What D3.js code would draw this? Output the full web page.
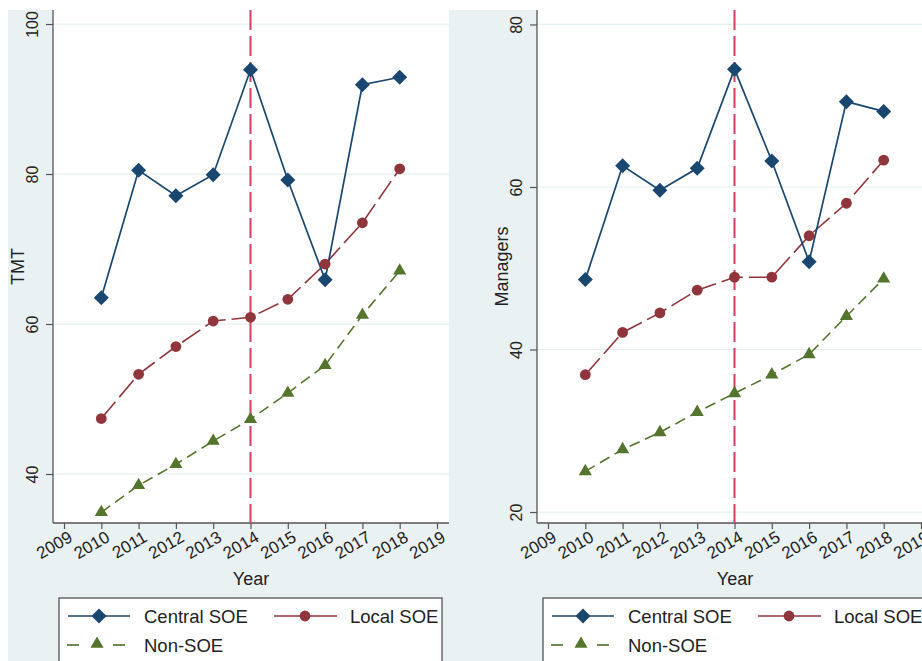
<!DOCTYPE html>
<html>
<head>
<meta charset="utf-8">
<script src="https://cdn.jsdelivr.net/npm/d3@7"></script>
<style>
	body { margin: 0; background: #fff; }
	svg { display: block; font-family: "Liberation Sans", Arial, sans-serif; }
</style>
</head>
<body>
<div id="chart"></div>
<script>
var years = [2010, 2011, 2012, 2013, 2014, 2015, 2016, 2017, 2018];
var xTicks = [2009, 2010, 2011, 2012, 2013, 2014, 2015, 2016, 2017, 2018, 2019];
var policyYear = 2014;

// TMT panel
var tmtCentral = [63.5, 80.5, 77.1, 79.9, 93.9, 79.2, 65.9, 91.9, 92.9];
var tmtLocal   = [47.4, 53.3, 57.0, 60.4, 60.9, 63.3, 68.0, 73.5, 80.7];
var tmtNon     = [34.9, 38.5, 41.3, 44.4, 47.3, 50.8, 54.5, 61.2, 67.1];
var tmtTicks   = [40, 60, 80, 100];

// Managers panel
var mgrCentral = [48.6, 62.6, 59.6, 62.3, 74.5, 63.2, 50.8, 70.5, 69.3];
var mgrLocal   = [36.9, 42.1, 44.5, 47.3, 48.9, 48.9, 54.0, 58.0, 63.3];
var mgrNon     = [25.0, 27.7, 29.8, 32.3, 34.6, 36.9, 39.4, 44.1, 48.7];
var mgrTicks   = [20, 40, 60, 80];

var seriesNames = ["Central SOE", "Local SOE", "Non-SOE"];

var W = 922, H = 661;
var navy = "#1a476f", maroon = "#90353b", green = "#55752f", crimson = "#d53e5c";
var bg = "#eaf1f3", txt = "#222";

var svg = d3.select("#chart").append("svg")
	.attr("width", W)
	.attr("height", H);

svg.append("rect")
	.attr("x", 8).attr("y", 10)
	.attr("width", W).attr("height", H)
	.attr("fill", bg);

function panel(dx, title, central, local, non, yTicks, yDomain) {
	var left = 53 + dx, right = 449 + dx, top = 10, bottom = 523;
	var g = svg.append("g");

	var x = d3.scaleLinear().domain([2009, 2019]).range([64 + dx, 437 + dx]);
	var y = d3.scaleLinear().domain(yDomain).range([bottom, top]);

	g.append("rect")
		.attr("x", left).attr("y", top)
		.attr("width", right - left).attr("height", bottom - top)
		.attr("fill", "#fff");

	g.selectAll(".grid")
		.data(yTicks)
		.enter().append("line")
		.attr("x1", left).attr("x2", right)
		.attr("y1", d => y(d)).attr("y2", d => y(d))
		.attr("stroke", "#e6eff1")
		.attr("stroke-width", 1.2);

	// axes
	var ya = g.append("g")
		.attr("transform", `translate(${left},0)`)
		.call(d3.axisLeft(y).tickValues(yTicks).tickSize(7).tickSizeOuter(0));
	ya.select(".domain").remove();
	ya.selectAll("line").attr("stroke", "#555").attr("stroke-width", 1.2);
	ya.selectAll("text")
		.attr("x", null).attr("dy", null)
		.attr("transform", "translate(-15,0) rotate(-90)")
		.attr("text-anchor", "middle")
		.attr("fill", txt)
		.style("font-size", "16px");

	var xa = g.append("g")
		.attr("transform", `translate(0,${bottom})`)
		.call(d3.axisBottom(x).tickValues(xTicks).tickFormat(d3.format("d")).tickSize(6).tickSizeOuter(0));
	xa.select(".domain").remove();
	xa.selectAll("line").attr("stroke", "#555").attr("stroke-width", 1.2);
	xa.selectAll("text")
		.attr("y", null).attr("dy", "0.72em")
		.attr("transform", "translate(3,7) rotate(-30)")
		.attr("text-anchor", "end")
		.attr("fill", txt)
		.style("font-size", "17px");

	g.append("line")
		.attr("x1", left).attr("x2", left).attr("y1", top).attr("y2", bottom)
		.attr("stroke", "#555").attr("stroke-width", 1.3);
	g.append("line")
		.attr("x1", left).attr("x2", right).attr("y1", bottom).attr("y2", bottom)
		.attr("stroke", "#555").attr("stroke-width", 1.3);

	g.append("text")
		.attr("transform", `translate(${left - 29},${(top + bottom) / 2}) rotate(-90)`)
		.attr("text-anchor", "middle")
		.attr("fill", txt)
		.style("font-size", "18px")
		.text(title);

	g.append("text")
		.attr("x", (left + right) / 2).attr("y", 585)
		.attr("text-anchor", "middle")
		.attr("fill", txt)
		.style("font-size", "18px")
		.text("Year");

	// policy line
	g.append("line")
		.attr("x1", x(policyYear)).attr("x2", x(policyYear))
		.attr("y1", top).attr("y2", bottom)
		.attr("stroke", crimson).attr("stroke-width", 2)
		.attr("stroke-dasharray", "20,6");

	var line = d3.line().x((d, i) => x(years[i])).y(d => y(d));

	g.append("path").attr("d", line(non))
		.attr("fill", "none").attr("stroke", green).attr("stroke-width", 1.6)
		.attr("stroke-dasharray", "11,6");
	g.append("path").attr("d", line(local))
		.attr("fill", "none").attr("stroke", maroon).attr("stroke-width", 1.6)
		.attr("stroke-dasharray", "22,6");
	g.append("path").attr("d", line(central))
		.attr("fill", "none").attr("stroke", navy).attr("stroke-width", 1.7);

	g.selectAll(".tri")
		.data(non)
		.enter().append("path")
		.attr("d", d3.symbol(d3.symbolTriangle, 75))
		.attr("transform", (d, i) => `translate(${x(years[i])},${y(d)})`)
		.attr("fill", green);
	g.selectAll(".dot")
		.data(local)
		.enter().append("circle")
		.attr("cx", (d, i) => x(years[i])).attr("cy", d => y(d))
		.attr("r", 5.4)
		.attr("fill", maroon);
	g.selectAll(".dia")
		.data(central)
		.enter().append("path")
		.attr("d", "M0,-7.5L7.5,0L0,7.5L-7.5,0Z")
		.attr("transform", (d, i) => `translate(${x(years[i])},${y(d)})`)
		.attr("fill", navy);

	// legend
	var lg = g.append("g").attr("transform", `translate(${59 + dx},598)`);
	lg.append("rect")
		.attr("x", 0).attr("y", 0).attr("width", 383).attr("height", 80)
		.attr("fill", "#fff").attr("stroke", "#555").attr("stroke-width", 1.3);

	lg.append("line").attr("x1", 9).attr("x2", 71).attr("y1", 18).attr("y2", 18)
		.attr("stroke", navy).attr("stroke-width", 1.7);
	lg.append("path").attr("d", "M0,-7.5L7.5,0L0,7.5L-7.5,0Z")
		.attr("transform", "translate(40,18)").attr("fill", navy);
	lg.append("text").attr("x", 85).attr("y", 25).attr("fill", txt)
		.style("font-size", "18.5px").text(seriesNames[0]);

	lg.append("line").attr("x1", 215).attr("x2", 278).attr("y1", 18).attr("y2", 18)
		.attr("stroke", maroon).attr("stroke-width", 1.7);
	lg.append("circle").attr("cx", 246).attr("cy", 18).attr("r", 5.4).attr("fill", maroon);
	lg.append("text").attr("x", 291).attr("y", 25).attr("fill", txt)
		.style("font-size", "18.5px").text(seriesNames[1]);

	lg.append("line").attr("x1", 8).attr("x2", 20).attr("y1", 47).attr("y2", 47)
		.attr("stroke", green).attr("stroke-width", 1.7);
	lg.append("line").attr("x1", 54).attr("x2", 66).attr("y1", 47).attr("y2", 47)
		.attr("stroke", green).attr("stroke-width", 1.7);
	lg.append("path").attr("d", d3.symbol(d3.symbolTriangle, 75))
		.attr("transform", "translate(38,46)").attr("fill", green);
	lg.append("text").attr("x", 85).attr("y", 54).attr("fill", txt)
		.style("font-size", "18.5px").text(seriesNames[2]);
}

panel(0, "TMT", tmtCentral, tmtLocal, tmtNon, tmtTicks, [33.47, 101.87]);
panel(484, "Managers", mgrCentral, mgrLocal, mgrNon, mgrTicks, [18.65, 81.78]);
</script>
</body>
</html>
